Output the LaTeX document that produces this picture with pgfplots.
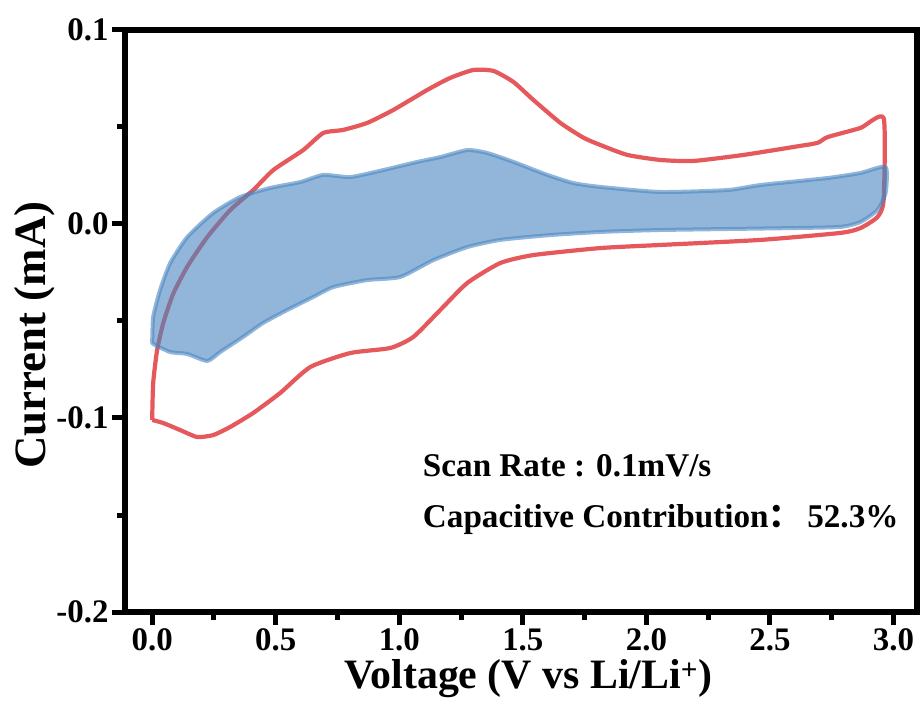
\documentclass[border=0pt]{standalone}
\usepackage{pgfplots}
\pgfplotsset{compat=1.18}
\usepackage{fontspec}
\setmainfont{Liberation Serif}
\newfontfamily\cjk{Noto Sans CJK SC}
\definecolor{cvred}{RGB}{229,88,92}
\definecolor{capblue}{RGB}{74,134,192}

\pgfplotstableread{
V I
0.000 -0.101
0.004 -0.082
0.020 -0.065
0.045 -0.051
0.085 -0.036
0.142 -0.022
0.223 -0.0067
0.316 0.0072
0.409 0.0175
0.490 0.0278
0.611 0.0381
0.692 0.0469
0.773 0.0485
0.870 0.0521
0.976 0.0588
1.113 0.0691
1.206 0.0753
1.300 0.0794
1.381 0.0789
1.462 0.0732
1.543 0.0639
1.652 0.0521
1.745 0.0445
1.814 0.0407
1.923 0.0356
2.057 0.0330
2.190 0.0325
2.393 0.0356
2.595 0.0397
2.692 0.0418
2.733 0.0448
2.866 0.0495
2.960 0.0546
2.960 0.0124
2.935 0.0036
2.866 -0.0021
2.785 -0.0046
2.462 -0.0082
2.057 -0.0108
1.814 -0.0124
1.543 -0.0160
1.409 -0.0201
1.275 -0.0304
1.166 -0.0443
1.057 -0.0582
0.964 -0.0639
0.802 -0.0665
0.640 -0.0737
0.518 -0.0871
0.409 -0.0974
0.316 -0.1046
0.247 -0.1088
0.182 -0.1098
0.113 -0.1062
0.045 -0.1026
0.000 -0.101
}\cvdata

\pgfplotstableread{
V I
0.000 -0.0613
0.004 -0.0479
0.032 -0.0340
0.073 -0.0201
0.142 -0.0067
0.247 0.0057
0.356 0.0139
0.478 0.0186
0.599 0.0216
0.692 0.0253
0.802 0.0242
0.935 0.0278
1.073 0.0320
1.166 0.0345
1.275 0.0381
1.356 0.0366
1.462 0.0320
1.599 0.0253
1.704 0.0211
1.814 0.0191
2.057 0.0165
2.328 0.0175
2.462 0.0201
2.733 0.0237
2.866 0.0263
2.968 0.0294
2.968 0.0160
2.935 0.0072
2.866 0.0010
2.785 -0.0015
2.595 -0.0021
2.057 -0.0031
1.814 -0.0041
1.611 -0.0057
1.409 -0.0082
1.275 -0.0119
1.138 -0.0186
1.004 -0.0273
0.870 -0.0289
0.733 -0.0325
0.652 -0.0376
0.547 -0.0443
0.449 -0.0510
0.368 -0.0582
0.275 -0.0660
0.223 -0.0706
0.142 -0.0670
0.073 -0.0660
0.012 -0.0624
0.000 -0.0613
}\capdata

\begin{document}
\begin{tikzpicture}
\begin{axis}[
  scale only axis, width=792bp, height=582bp,
  xmin=-0.11, xmax=3.095, ymin=-0.2, ymax=0.1,
  axis line style={line width=5.5bp},
  xtick={0,0.5,1,1.5,2,2.5,3},
  xticklabels={0.0,0.5,1.0,1.5,2.0,2.5,3.0},
  ytick={-0.2,-0.1,0,0.1},
  yticklabels={-0.2,-0.1,0.0,0.1},
  minor x tick num=1, minor y tick num=1,
  tick align=outside, xtick pos=bottom, ytick pos=left,
  major tick length=13bp, minor tick length=8bp,
  tick style={line width=5bp, black},
  tick label style={font=\fontsize{33}{33}\selectfont\bfseries},
  xlabel={Voltage (V vs Li/Li\textsuperscript{+})},
  ylabel={Current (mA)},
  xlabel style={font=\fontsize{42}{42}\selectfont\bfseries, at={(axis description cs:0.509,-0.1306)}, anchor=base},
  ylabel style={font=\fontsize{45}{45}\selectfont\bfseries, at={(axis description cs:-0.114,0.476)}, anchor=center, rotate=0},
  clip=false,
]
\addplot[line width=4.2bp, cvred, line join=round, smooth, tension=0.35] table[x=V, y=I] {\cvdata};
\addplot[line width=4bp, draw=capblue, draw opacity=0.6, fill=capblue, fill opacity=0.6, line join=round, smooth, tension=0.35] table[x=V, y=I] {\capdata} -- cycle;
\node[anchor=base west, inner sep=0, font=\fontsize{33.3}{33}\selectfont\bfseries] at (axis description cs:0.376,0.232) {Scan Rate : 0.1mV/s};
\node[anchor=base west, inner sep=0, font=\fontsize{33.3}{33}\selectfont\bfseries] at (axis description cs:0.376,0.146) {Capacitive Contribution{\cjk\bfseries ：}\,52.3\%};
\end{axis}
\path (current axis.south west) ++(-125bp,-99bp) rectangle ([shift={(3bp,30bp)}]current axis.north east);
\end{tikzpicture}
\end{document}
